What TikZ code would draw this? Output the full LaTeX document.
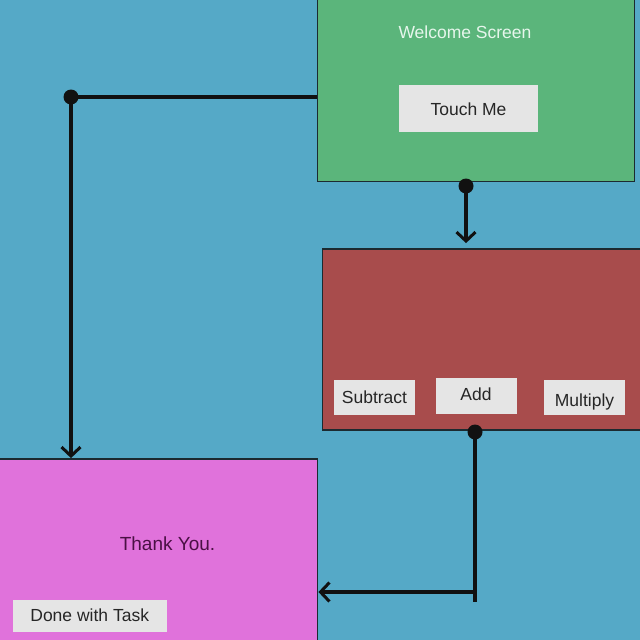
\documentclass[tikz,border=0pt]{standalone}
\usepackage{fontspec}
\setmainfont{Liberation Sans}
\usetikzlibrary{arrows.meta}
\definecolor{bgblue}{HTML}{55A9C7}
\definecolor{scrgreen}{HTML}{5BB57B}
\definecolor{scrred}{HTML}{A84C4C}
\definecolor{scrpink}{HTML}{E072DB}
\definecolor{btngray}{HTML}{E5E5E5}
\definecolor{edge}{HTML}{1C2A30}
\definecolor{ink}{HTML}{111111}
\definecolor{welcometxt}{HTML}{E6F6EC}
\definecolor{thanktxt}{HTML}{4A1044}
\tikzset{
  screen/.style={draw=edge, line width=1.8pt, inner sep=0pt, anchor=center},
  button/.style={fill=btngray, inner sep=0pt, text=black!85, font=\fontsize{17.5}{20}\selectfont, text height=12.5pt, text depth=3pt},
  conn/.style={ink, line width=3.4pt, -{Straight Barb[length=9pt,width=19pt,line width=3pt]}},
  plain/.style={ink, line width=3.4pt},
  dot/.style={fill=ink},
}
\begin{document}
\begin{tikzpicture}[x=1pt,y=-1pt]
\fill[bgblue] (0,0) rectangle (640,640);
\useasboundingbox (0,0) rectangle (640,640);
% screens
\node[screen, fill=scrgreen, minimum width=317pt, minimum height=182pt] (green) at (476,90.5) {};
\node[screen, fill=scrred, minimum width=318pt, minimum height=181pt] (red) at (481.5,339.5) {};
\node[screen, fill=scrpink, minimum width=318pt, minimum height=182pt] (pink) at (158.5,550) {};
% texts
\node[text=welcometxt, font=\fontsize{17.5}{20}\selectfont] (wtitle) at (465,32) {Welcome Screen};
\node[text=thanktxt, font=\fontsize{19}{22}\selectfont] (ttitle) at (167.5,544) {Thank You.};
% buttons
\node[button, minimum width=139pt, minimum height=47pt] (touch) at (468.5,108.5) {\raisebox{-2pt}{Touch Me}};
\node[button, minimum width=81pt, minimum height=35pt] (sub) at (374.5,397.5) {\raisebox{-1pt}{Subtract}};
\node[button, minimum width=81pt, minimum height=36pt] (add) at (476,396) {Add};
\node[button, minimum width=81pt, minimum height=35pt] (mul) at (584.5,397.5) {\raisebox{-4pt}{Multiply}};
\node[button, minimum width=154pt, minimum height=32pt] (done) at (89.7,615.8) {\raisebox{-1pt}{Done with Task}};
% connector coordinates
\coordinate (d1) at (466,186);
\coordinate (d2) at (71,97);
\coordinate (d3) at (475,432);
\coordinate (bend3) at (475,592);
\coordinate (end3) at (475,602);
% green -> red
\draw[conn, shorten >=5pt] (d1) -- (red.north -| d1);
\fill[dot] (d1) circle (7.5pt);
% green -> pink (left)
\draw[conn] (green.west |- d2) -- (d2) -- (pink.north -| d2);
\fill[dot] (d2) circle (7.5pt);
% red -> pink
\draw[plain] (d3) -- (end3);
\draw[conn] (bend3) -- (pink.east |- bend3);
\fill[dot] (d3) circle (7.5pt);
\end{tikzpicture}
\end{document}
